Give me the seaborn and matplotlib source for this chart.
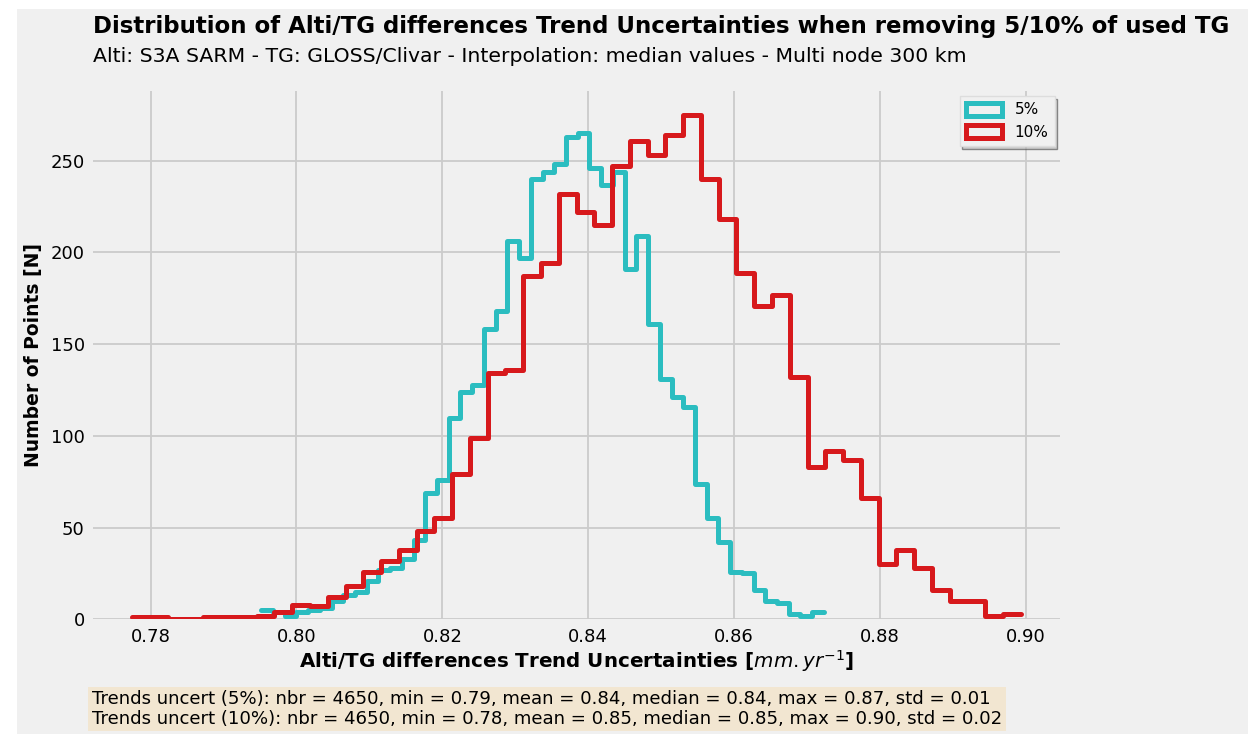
# Distribution of Alti/TG trend uncertainties when removing 5/10% of TG

import numpy as np
import pandas as pd
import matplotlib.pyplot as plt
import seaborn as sns
from matplotlib.patches import Patch, Rectangle

# Histogram counts
counts_5 = [5, 4, 2, 4, 5, 6, 10, 13, 15, 21, 27, 28, 33, 43, 69, 76,
            110, 124, 128, 158, 168, 206, 197, 240, 244, 248, 263, 265, 246, 237, 244, 191,
            209, 161, 131, 121, 116, 74, 55, 42, 26, 25, 16, 10, 9, 3, 2, 4]
counts_10 = [1, 1, 0, 0, 1, 1, 1, 2, 4, 8, 7, 12, 18, 26, 32, 38, 48,
             55, 79, 99, 134, 136, 187, 194, 232, 222, 215, 247,
             261, 253, 264, 275, 240, 218, 189, 171, 177, 132,
             83, 92, 87, 66, 30, 38, 28, 16, 10, 10, 2, 3]

# bin range of each series
range_5 = (0.79516, 0.87233)
range_10 = (0.77749, 0.89932)

labels = ["5%", "10%"]
colors = ["#2bbdc0", "#d7191c"]

stats_lines = [
    "Trends uncert (5%): nbr = 4650, min = 0.79, mean = 0.84, median = 0.84, max = 0.87, std = 0.01",
    "Trends uncert (10%): nbr = 4650, min = 0.78, mean = 0.85, median = 0.85, max = 0.90, std = 0.02",
]

edges_5 = np.linspace(range_5[0], range_5[1], len(counts_5) + 1)
edges_10 = np.linspace(range_10[0], range_10[1], len(counts_10) + 1)
df5 = pd.DataFrame({"x": (edges_5[:-1] + edges_5[1:]) / 2, "n": counts_5})
df10 = pd.DataFrame({"x": (edges_10[:-1] + edges_10[1:]) / 2, "n": counts_10})

sns.set_style("whitegrid", {"axes.facecolor": "#f0f0f0", "grid.color": "#cbcbcb",
                            "axes.edgecolor": "#f0f0f0", "text.color": "black",
                            "axes.labelcolor": "black"})
plt.rcParams["font.family"] = ["DejaVu Sans"]

fig = plt.figure(figsize=(12.48, 7.34), dpi=100, facecolor="white")
# grey background (screenshot has a small white margin at left/top)
fig.patches.append(Rectangle((17 / 1248, 0), 1, 1 - 9 / 734, transform=fig.transFigure,
                             facecolor="#f0f0f0", edgecolor="none", zorder=-10))
ax = fig.add_axes([93 / 1248, 114.7 / 734, 967 / 1248, 528.3 / 734])

sns.histplot(data=df5, x="x", weights="n", bins=edges_5.tolist(), element="step", fill=False,
             color=colors[0], linewidth=3.6, ax=ax)
sns.histplot(data=df10, x="x", weights="n", bins=edges_10.tolist(), element="step", fill=False,
             color=colors[1], linewidth=3.6, ax=ax)

ax.set_xlim(0.7721, 0.9047)
ax.set_ylim(0, 288)
ax.set_xticks([0.78, 0.80, 0.82, 0.84, 0.86, 0.88, 0.90])
ax.set_yticks([0, 50, 100, 150, 200, 250])
ax.grid(True, color="#cbcbcb", linewidth=1.3)
ax.set_axisbelow(True)
for s in ax.spines.values():
    s.set_visible(False)
ax.tick_params(axis="both", labelsize=13, length=0, pad=6, labelcolor="black")

ax.set_xlabel(r"Alti/TG differences Trend Uncertainties [$mm.yr^{-1}$]",
              fontsize=14.3, fontweight="bold", labelpad=2)
ax.set_ylabel("Number of Points [N]", fontsize=13.5, fontweight="bold", labelpad=5)

handles = [Patch(facecolor="none", edgecolor=c, linewidth=3.6, label=l)
           for c, l in zip(colors, labels)]
leg = ax.legend(handles=handles, loc="upper right", fontsize=11,
                shadow={"facecolor": "#b5b5b5", "alpha": 0.6},
                framealpha=1, facecolor="#f0f0f0", edgecolor="#dddddd",
                handlelength=2.4, handleheight=0.9, borderaxespad=0.35, fancybox=False)

fig.text(93 / 1248, 1 - 27 / 734,
         "Distribution of Alti/TG differences Trend Uncertainties when removing 5/10% of used TG",
         fontsize=16.5, fontweight="bold", va="center", ha="left")
fig.text(93 / 1248, 1 - 56 / 734,
         "Alti: S3A SARM - TG: GLOSS/Clivar - Interpolation: median values - Multi node 300 km",
         fontsize=14.7, va="center", ha="left")

fig.text(92 / 1248, 1 - 709 / 734, "\n".join(stats_lines), fontsize=13.1, va="center", ha="left",
         linespacing=1.08,
         bbox=dict(boxstyle="square,pad=0.2", facecolor="wheat", edgecolor="none", alpha=0.5))

plt.savefig("out.png", dpi=100, facecolor=fig.get_facecolor())
